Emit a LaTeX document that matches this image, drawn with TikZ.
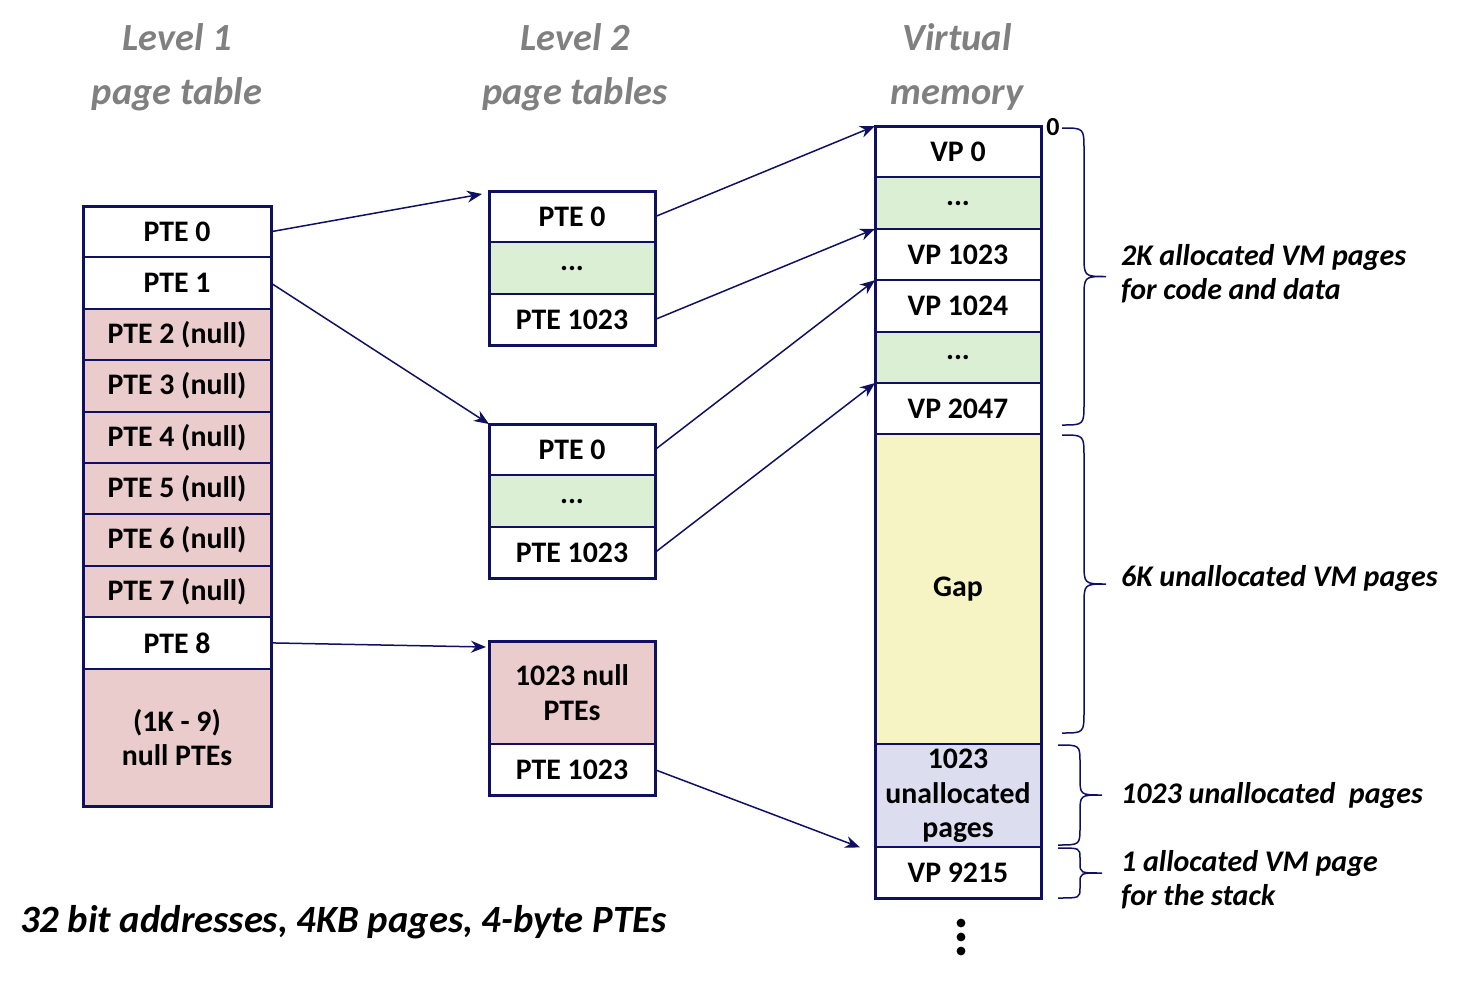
\documentclass[tikz,border=0pt]{standalone}
\usepackage{fontspec}
\setmainfont{Carlito}
\usepackage{xcolor}
\usepackage{tikz}
\usetikzlibrary{positioning}
\usetikzlibrary{arrows.meta}

\definecolor{navyline}{RGB}{16,16,98}
\definecolor{nullpink}{RGB}{235,204,204}
\definecolor{dotgreen}{RGB}{218,239,212}
\definecolor{gapyellow}{RGB}{246,243,196}
\definecolor{freelav}{RGB}{220,222,240}
\definecolor{titlegray}{RGB}{128,128,128}

\begin{document}
\begin{tikzpicture}[
    x = 0.5pt, y = -0.5pt,
    cell/.style = {rectangle, draw = navyline, line width = 1pt, fill = white, text = black, minimum height = 25.7pt, inner sep = 0pt, outer sep = 0pt, align = center, font = \bfseries\fontsize{14.9}{17.3}\selectfont},
    lone/.style = {cell, minimum width = 94pt},
    ltwo/.style = {cell, minimum width = 83pt},
    nullrow/.style = {fill = nullpink},
    dotrow/.style = {fill = dotgreen},
    frame/.style = {draw = navyline, line width = 1.5pt},
    link/.style = {-{Stealth[length = 7.5pt, width = 6pt]}, draw = navyline, line width = 0.75pt},
    bracket/.style = {draw = navyline, line width = 0.75pt},
    title/.style = {text = titlegray, align = center, font = \bfseries\itshape\fontsize{19.2}{27}\selectfont},
    note/.style = {anchor = west, align = left, font = \bfseries\itshape\fontsize{15}{17}\selectfont},
]
    \useasboundingbox (0,0) rectangle (1458,996);

    % titles
    \node[title] (TitleOne) at (177,67) {Level 1\\page table};
    \node[title] (TitleTwo) at (575,67) {Level 2\\page tables};
    \node[title] (TitleVm) at (957,67) {Virtual\\memory};

    % level 1 page table
    \node[lone] (Lone0) at (177,231.7) {PTE 0};
    \node[lone, below = 0pt of Lone0] (Lone1) {PTE 1};
    \foreach \i in {2,...,7} {
        \pgfmathtruncatemacro\prev{\i-1}
        \node[lone, nullrow, below = 0pt of Lone\prev] (Lone\i) {PTE \i\ (null)};
    }
    \node[lone, below = 0pt of Lone7] (Lone8) {PTE 8};
    \node[lone, nullrow, minimum height = 69pt, below = 0pt of Lone8] (Lone9) {(1K - 9)\\null PTEs};
    \draw[frame] (Lone0.north west) rectangle (Lone9.south east);

    % level 2 page tables
    \node[ltwo] (Atab0) at (572,216.7) {PTE 0};
    \node[ltwo, dotrow, below = 0pt of Atab0] (Atab1) {...};
    \node[ltwo, below = 0pt of Atab1] (Atab2) {PTE 1023};
    \draw[frame] (Atab0.north west) rectangle (Atab2.south east);

    \node[ltwo] (Btab0) at (572,449.7) {PTE 0};
    \node[ltwo, dotrow, below = 0pt of Btab0] (Btab1) {...};
    \node[ltwo, below = 0pt of Btab1] (Btab2) {PTE 1023};
    \draw[frame] (Btab0.north west) rectangle (Btab2.south east);

    \node[ltwo, nullrow, minimum height = 51.5pt] (Ctab0) at (572,692.5) {1023 null\\PTEs};
    \node[ltwo, below = 0pt of Ctab0] (Ctab1) {PTE 1023};
    \draw[frame] (Ctab0.north west) rectangle (Ctab1.south east);

    % virtual memory
    \node[ltwo] (Vm0) at (958,151.7) {VP 0};
    \node[ltwo, dotrow, below = 0pt of Vm0] (Vm1) {...};
    \node[ltwo, below = 0pt of Vm1] (Vm2) {VP 1023};
    \node[ltwo, below = 0pt of Vm2] (Vm3) {VP 1024};
    \node[ltwo, dotrow, below = 0pt of Vm3] (Vm4) {...};
    \node[ltwo, below = 0pt of Vm4] (Vm5) {VP 2047};
    \node[ltwo, minimum height = 155pt, fill = gapyellow, below = 0pt of Vm5] (Vm6) {Gap};
    \node[ltwo, minimum height = 51.5pt, fill = freelav, below = 0pt of Vm6] (Vm7) {1023\\unallocated\\pages};
    \node[ltwo, below = 0pt of Vm7] (Vm8) {VP 9215};
    \draw[frame] (Vm0.north west) rectangle (Vm8.south east);
    \node[font = \bfseries\fontsize{13}{15}\selectfont] (Zero) at (1053,127) {0};
    \foreach \yy in {923,937,951}
        \fill (961,\yy) circle (2.2pt);

    % pointers
    \draw[link] (Lone0.east) -- ([xshift = -3.5pt, yshift = -1.5pt]Atab0.north west);
    \draw[link] (Lone1.east) -- (Btab0.north west);
    \draw[link] (Lone8.east) -- ([xshift = -1.5pt, yshift = -3pt]Ctab0.north west);
    \draw[link] (Atab0.east) -- (Vm0.north west);
    \draw[link] (Atab2.east) -- (Vm2.north west);
    \draw[link] (Btab0.east) -- (Vm3.north west);
    \draw[link] (Btab2.east) -- (Vm5.north west);
    \draw[link] (Ctab1.east) -- ([xshift = -7.5pt]Vm8.north west);

    % braces
    \foreach \xa/\ya/\yb/\r in {1062/128/425/22, 1062/435/733/22, 1058/745/845/18, 1058/848/898/10}
        \draw[bracket] (\xa,\ya) .. controls (\xa+22,\ya) .. (\xa+22,\ya+\r)
            -- (\xa+22,{(\ya+\yb)/2-\r}) .. controls (\xa+22,{(\ya+\yb)/2}) .. (\xa+44,{(\ya+\yb)/2})
            .. controls (\xa+22,{(\ya+\yb)/2}) .. (\xa+22,{(\ya+\yb)/2+\r})
            -- (\xa+22,\yb-\r) .. controls (\xa+22,\yb) .. (\xa,\yb);

    % notes
    \node[note] (NoteCode) at (1114,274) {2K allocated VM pages\\for code and data};
    \node[note] (NoteGap) at (1114,578) {6K unallocated VM pages};
    \node[note] (NoteFree) at (1114,795) {1023 unallocated\ \ pages};
    \node[note] (NoteStack) at (1114,880) {1 allocated VM page\\for the stack};

    \node[anchor = west, font = \bfseries\itshape\fontsize{19.3}{22}\selectfont] (Caption) at (13,922) {32 bit addresses, 4KB pages, 4-byte PTEs};
\end{tikzpicture}
\end{document}
